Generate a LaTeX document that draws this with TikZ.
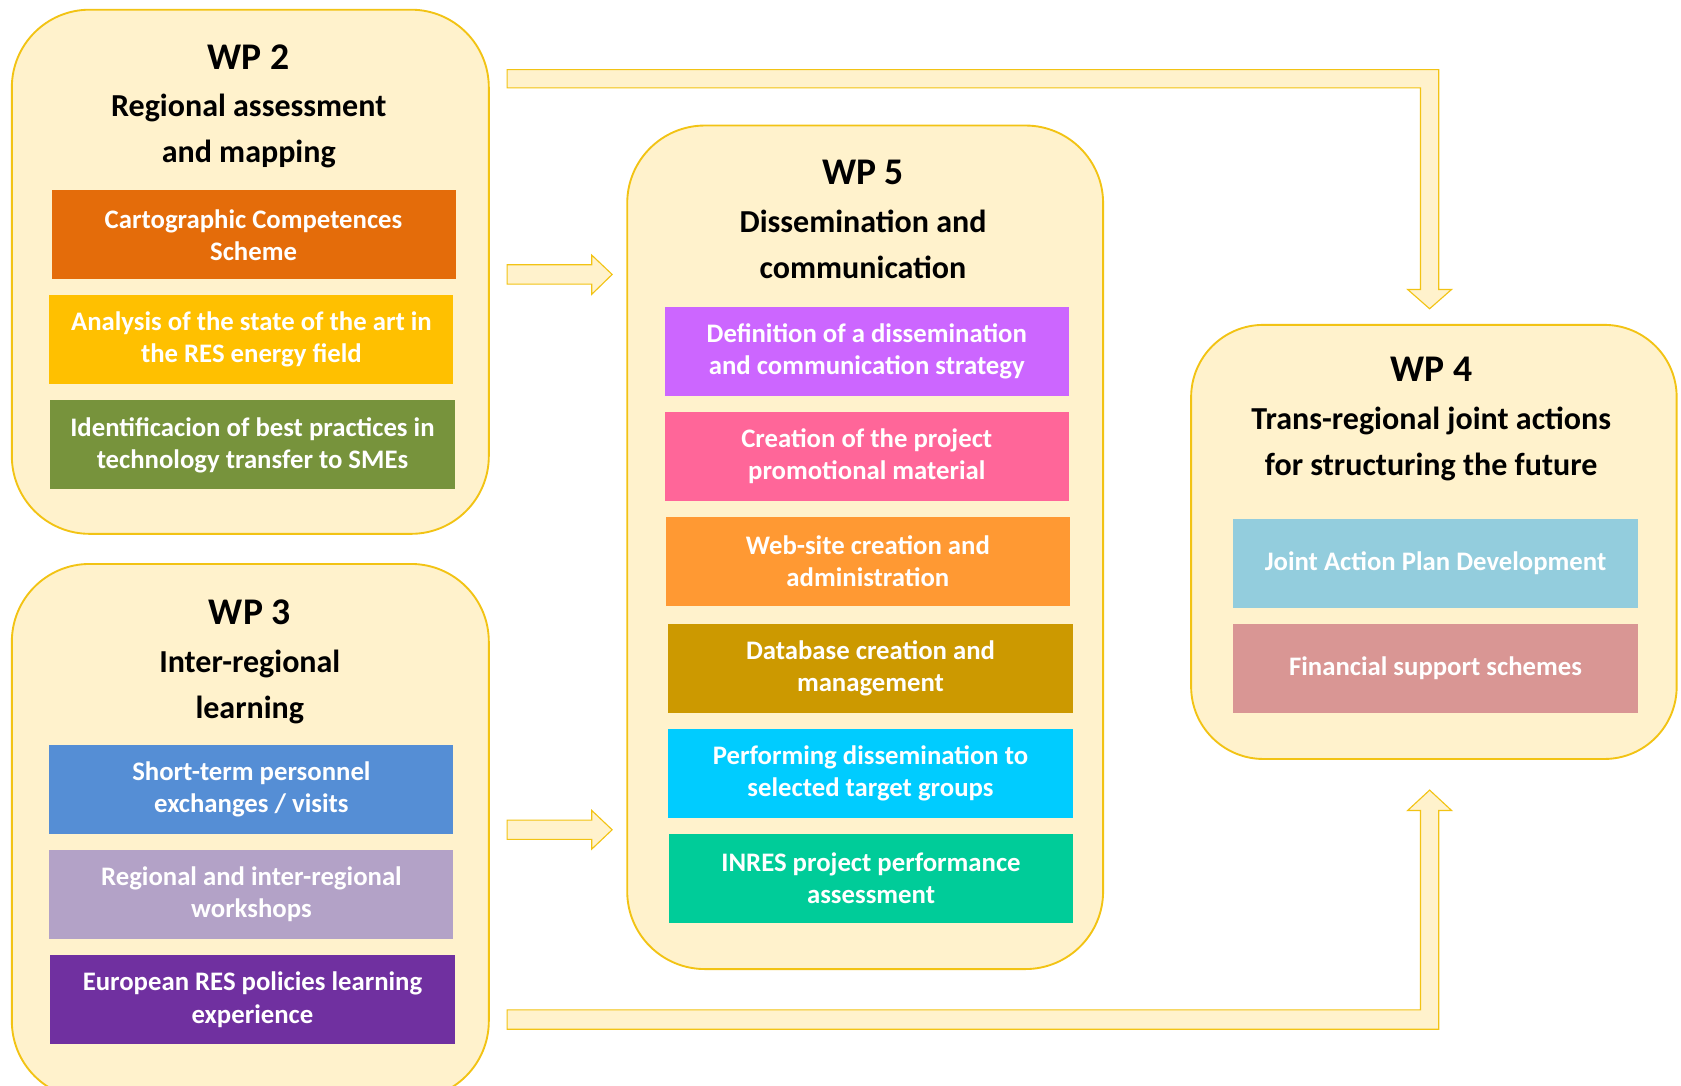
\documentclass[tikz,border=0pt]{standalone}
\usepackage{fontspec}
\setmainfont{Carlito}
\usepackage{tikz}
\usetikzlibrary{positioning}

\definecolor{wpfill}{HTML}{FFF2CC}
\definecolor{wpline}{HTML}{F2C314}
\definecolor{cOrange}{HTML}{E46C0A}
\definecolor{cGold}{HTML}{FFC000}
\definecolor{cOlive}{HTML}{77933C}
\definecolor{cBlue}{HTML}{558ED5}
\definecolor{cLilac}{HTML}{B3A2C7}
\definecolor{cPurple}{HTML}{7030A0}
\definecolor{cViolet}{HTML}{CC66FF}
\definecolor{cPink}{HTML}{FF6699}
\definecolor{cApricot}{HTML}{FF9933}
\definecolor{cMustard}{HTML}{CC9900}
\definecolor{cCyan}{HTML}{00CCFF}
\definecolor{cTeal}{HTML}{00CC99}
\definecolor{cSky}{HTML}{93CDDD}
\definecolor{cRose}{HTML}{D99694}

\tikzset{
  wpbox/.style={draw=wpline, fill=wpfill, line width=1pt, rounded corners=1.45cm},
  wptitle/.style={anchor=north, inner sep=0pt, align=center,
    font=\fontsize{17}{24.4}\selectfont\bfseries},
  task/.style={minimum width=7.54cm, minimum height=1.66cm, inner sep=0pt,
    text=white, align=center, font=\fontsize{14.2}{17}\selectfont\bfseries},
  blockarrow/.style={draw=wpline, fill=wpfill, line width=0.6pt, line join=miter}
}
\newcommand{\wpnum}[1]{{\fontsize{20}{24.4}\selectfont #1}}

\begin{document}
\begin{tikzpicture}[x=0.02cm, y=-0.02cm]

\useasboundingbox (0,0) rectangle (1568,1013);

% work package frames
\node [wpbox, minimum width=8.9cm, minimum height=9.78cm] (wp2) at (233.5,253.5) {};
\node [wpbox, minimum width=8.9cm, minimum height=9.98cm] (wp3) at (233.5,775.5) {};
\node [wpbox, minimum width=8.88cm, minimum height=15.74cm] (wp5) at (807,510.5) {};
\node [wpbox, minimum width=9.06cm, minimum height=8.1cm, rounded corners=1.35cm] (wp4) at (1337.5,505.5) {};

% titles
\node [wptitle] (t2) at (232,41) {\wpnum{WP 2}\\[1pt] Regional assessment\\ and mapping};
\node [wptitle] (t3) at (233,559) {\wpnum{WP 3}\\[1pt] Inter-regional\\ learning};
\node [wptitle] (t5) at (805,149) {\wpnum{WP 5}\\[1pt] Dissemination and\\ communication};
\node [wptitle] (t4) at (1335,333) {\wpnum{WP 4}\\[1pt] Trans-regional joint actions\\ for structuring the future};

% WP 2 tasks
\node [task, fill=cOrange] (carto) at (236.5,219) {Cartographic Competences\\ Scheme};
\node [task, fill=cGold] (state) at (234.5,317) {Analysis of the state of the art in\\ the RES energy field};
\node [task, fill=cOlive] (practice) at (235.5,415) {Identificacion of best practices in\\ technology transfer to SMEs};

% WP 3 tasks
\node [task, fill=cBlue] (exchange) at (234.5,736.5) {Short-term personnel\\ exchanges / visits};
\node [task, fill=cLilac] (workshop) at (234.5,834.5) {Regional and inter-regional\\ workshops};
\node [task, fill=cPurple] (policy) at (235.5,932.5) {European RES policies learning\\ experience};

% WP 5 tasks
\node [task, fill=cViolet] (strategy) at (808.5,327.5) {Definition of a dissemination\\ and communication strategy};
\node [task, fill=cPink] (promo) at (808.5,425.5) {Creation of the project\\ promotional material};
\node [task, fill=cApricot] (website) at (809.5,523.5) {Web-site creation and\\ administration};
\node [task, fill=cMustard] (database) at (812,623.5) {Database creation and\\ management};
\node [task, fill=cCyan] (target) at (812,721.5) {Performing dissemination to\\ selected target groups};
\node [task, fill=cTeal] (assess) at (812.5,819.5) {INRES project performance\\ assessment};

% WP 4 tasks
\node [task, fill=cSky] (plan) at (1339,525.5) {Joint Action Plan Development};
\node [task, fill=cRose] (finance) at (1339,623.5) {Financial support schemes};

% block arrows
\draw [blockarrow] (473,247) -- (552,247) -- (552,238) -- (571,256) -- (552,274.5) -- (552,265) -- (473,265) -- cycle ;
\draw [blockarrow] (473,765) -- (552,765) -- (552,756) -- (571,774) -- (552,792) -- (552,783) -- (473,783) -- cycle ;
\draw [blockarrow] (473,65) -- (1342,65) -- (1342,270) -- (1354,270) -- (1333.5,288) -- (1313,270) -- (1325,270) -- (1325,82) -- (473,82) -- cycle ;
\draw [blockarrow] (473,960) -- (1342,960) -- (1342,756) -- (1354,756) -- (1333.5,737) -- (1313,756) -- (1325,756) -- (1325,942) -- (473,942) -- cycle ;

\end{tikzpicture}
\end{document}
